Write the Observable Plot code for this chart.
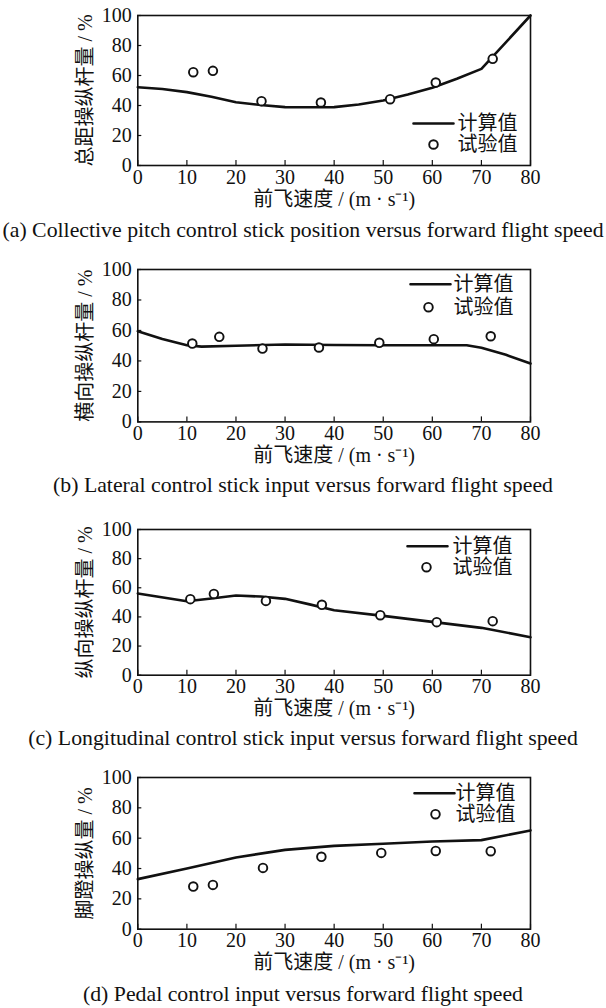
<!DOCTYPE html>
<html>
<head>
<meta charset="utf-8">
<script src="https://cdn.jsdelivr.net/npm/d3@7"></script>
<script src="https://cdn.jsdelivr.net/npm/@observablehq/plot@0.6"></script>
<style>
  html, body { margin: 0; padding: 0; background: #fff; }
  #root { position: relative; width: 606px; height: 1008px; background: #fff; overflow: hidden; }
  .panel { position: absolute; left: 0; }
  .panel svg, .panel svg text { font-family: "Liberation Serif", "Noto Sans CJK SC", serif !important; }
  .caption { position: absolute; left: 0; width: 606px; text-align: center;
    font-family: "Liberation Serif", "Times New Roman", serif; font-size: 21.8px; line-height: 22px; color: #111; white-space: nowrap; }
</style>
</head>
<body>
<div id="root"></div>
<script>
// ---- shared axis values ----
const xTicks = [0, 10, 20, 30, 40, 50, 60, 70, 80];
const yTicks = [0, 20, 40, 60, 80, 100];
const xTitle = "前飞速度 / (m · s⁻¹)";
const legendCalc = "计算值";
const legendExp = "试验值";

// ---- (a) collective ----
const calcSpeedA = [0, 5, 10, 15, 20, 25, 30, 35, 40, 45, 50, 55, 60, 65, 70, 80];
const calcA = [52.2, 51, 48.9, 45.8, 42.2, 40.3, 38.9, 38.8, 38.9, 40.7, 43.3, 47.3, 51.8, 57.8, 64.4, 100];
const expSpeedA = [11.3, 15.3, 25.2, 37.3, 51.4, 60.7, 72.3];
const expA = [62.2, 63.1, 42.9, 42.0, 44.2, 55.3, 71.1];

// ---- (b) lateral ----
const calcSpeedB = [0, 5, 10, 13, 20, 30, 40, 50, 60, 67, 70, 75, 80];
const calcB = [59.5, 54.4, 50.3, 49.4, 50, 50.8, 50.5, 50.3, 50.3, 50.3, 48.6, 44, 38.3];
const expSpeedB = [11.1, 16.6, 25.4, 36.9, 49.2, 60.3, 71.9];
const expB = [51.4, 55.8, 48.1, 48.8, 51.9, 54.3, 56.2];

// ---- (c) longitudinal ----
const calcSpeedC = [0, 10, 15, 20, 25, 30, 35, 40, 50, 60, 70, 80];
const calcC = [56.1, 50.8, 52.6, 54.7, 54, 52.4, 48.6, 44.6, 40.7, 36.6, 32.5, 26.1];
const expSpeedC = [10.7, 15.5, 26.1, 37.5, 49.4, 60.9, 72.3];
const expC = [52.2, 55.8, 51.0, 48.3, 41.2, 36.4, 37.1];

// ---- (d) pedal ----
const calcSpeedD = [0, 10, 20, 30, 40, 50, 60, 70, 80];
const calcD = [33, 40, 47.3, 52.3, 54.9, 56.3, 57.8, 58.7, 65.1];
const expSpeedD = [11.3, 15.3, 25.5, 37.4, 49.6, 60.7, 71.9];
const expD = [28.1, 29.2, 40.4, 47.7, 50.3, 51.6, 51.4];

const yTitles = ["总距操纵杆量 / %", "横向操纵杆量 / %", "纵向操纵杆量 / %", "脚蹬操纵量 / %"];
const captions = [
  "(a) Collective pitch control stick position versus forward flight speed",
  "(b) Lateral control stick input versus forward flight speed",
  "(c) Longitudinal control stick input versus forward flight speed",
  "(d) Pedal control input versus forward flight speed"
];

// layout (pixel geometry of each panel)
const layout = [
  {frameTop: 15,    frameH: 150,   legend: {lx: -97,  ly: 108,  tx: -73, cx: -97,  cy: 129},  capY: 230},
  {frameTop: 269.3, frameH: 152.4, legend: {lx: -100, ly: 14.7, tx: -77, cx: -102, cy: 37.7}, capY: 485},
  {frameTop: 529.3, frameH: 145.7, legend: {lx: -103, ly: 16.7, tx: -78, cx: -104, cy: 37.7}, capY: 738},
  {frameTop: 777.3, frameH: 151.7, legend: {lx: -96,  ly: 15.7, tx: -75, cx: -95,  cy: 36.7}, capY: 994}
];

const series = [
  [calcSpeedA, calcA, expSpeedA, expA],
  [calcSpeedB, calcB, expSpeedB, expB],
  [calcSpeedC, calcC, expSpeedC, expC],
  [calcSpeedD, calcD, expSpeedD, expD]
];

const W = 606, ML = 137.3, MR = 76, MT = 15, MB = 62;
const FONT = "Liberation Serif, Noto Sans CJK SC, serif";

const root = document.getElementById("root");

series.forEach(([cs, cv, es, ev], i) => {
  const L = layout[i];
  const calc = cs.map((s, j) => ({speed: s, value: cv[j]}));
  const exp = es.map((s, j) => ({speed: s, value: ev[j]}));
  const frameW = W - ML - MR;
  const chart = Plot.plot({
    width: W,
    height: MT + L.frameH + MB,
    marginLeft: ML, marginRight: MR, marginTop: MT, marginBottom: MB,
    style: {fontFamily: FONT, fontSize: "20px", background: "transparent", color: "#111", overflow: "visible"},
    x: {domain: [0, 80]},
    y: {domain: [0, 100]},
    marks: [
      Plot.tickX(xTicks, {x: d => d, insetTop: L.frameH - 5, stroke: "#111", strokeWidth: 1.2}),
      Plot.tickY(yTicks, {y: d => d, insetRight: frameW - 4, stroke: "#111", strokeWidth: 1.2}),
      Plot.line(calc, {x: "speed", y: "value", stroke: "#111", strokeWidth: 2.6}),
      Plot.dot(exp, {x: "speed", y: "value", r: 4.3, stroke: "#111", strokeWidth: 1.9, fill: "white"}),
      Plot.frame({stroke: "#111", strokeWidth: 1.6}),
      Plot.axisX(xTicks, {tickSize: 0, tickPadding: 4, fontSize: 20, label: null}),
      Plot.axisY(yTicks, {tickSize: 0, tickPadding: 6, fontSize: 20, label: null}),
      Plot.text([yTitles[i]], {frameAnchor: "left", text: d => d, rotate: -90, dx: -52, textAnchor: "middle", lineAnchor: "middle", fontSize: 20}),
      Plot.text([xTitle], {frameAnchor: "bottom", text: d => d, dy: 40, fontSize: 20}),
      // legend
      Plot.vector([legendCalc], {frameAnchor: "top-right", dx: L.legend.lx, dy: L.legend.ly, length: 40, rotate: 90, anchor: "middle", r: 0, stroke: "#111", strokeWidth: 2.6}),
      Plot.text([legendCalc], {frameAnchor: "top-right", text: d => d, dx: L.legend.tx, dy: L.legend.ly, textAnchor: "start", lineAnchor: "middle", fontSize: 20}),
      Plot.dot([legendExp], {frameAnchor: "top-right", dx: L.legend.cx, dy: L.legend.cy, r: 4.3, fill: "white", stroke: "#111", strokeWidth: 1.9}),
      Plot.text([legendExp], {frameAnchor: "top-right", text: d => d, dx: L.legend.tx, dy: L.legend.cy, textAnchor: "start", lineAnchor: "middle", fontSize: 20})
    ]
  });
  const wrap = document.createElement("div");
  wrap.className = "panel";
  wrap.style.top = (L.frameTop - MT) + "px";
  wrap.appendChild(chart);
  root.appendChild(wrap);

  const cap = document.createElement("div");
  cap.className = "caption";
  cap.style.top = (L.capY - 11) + "px";
  cap.textContent = captions[i];
  root.appendChild(cap);
});
</script>
</body>
</html>
